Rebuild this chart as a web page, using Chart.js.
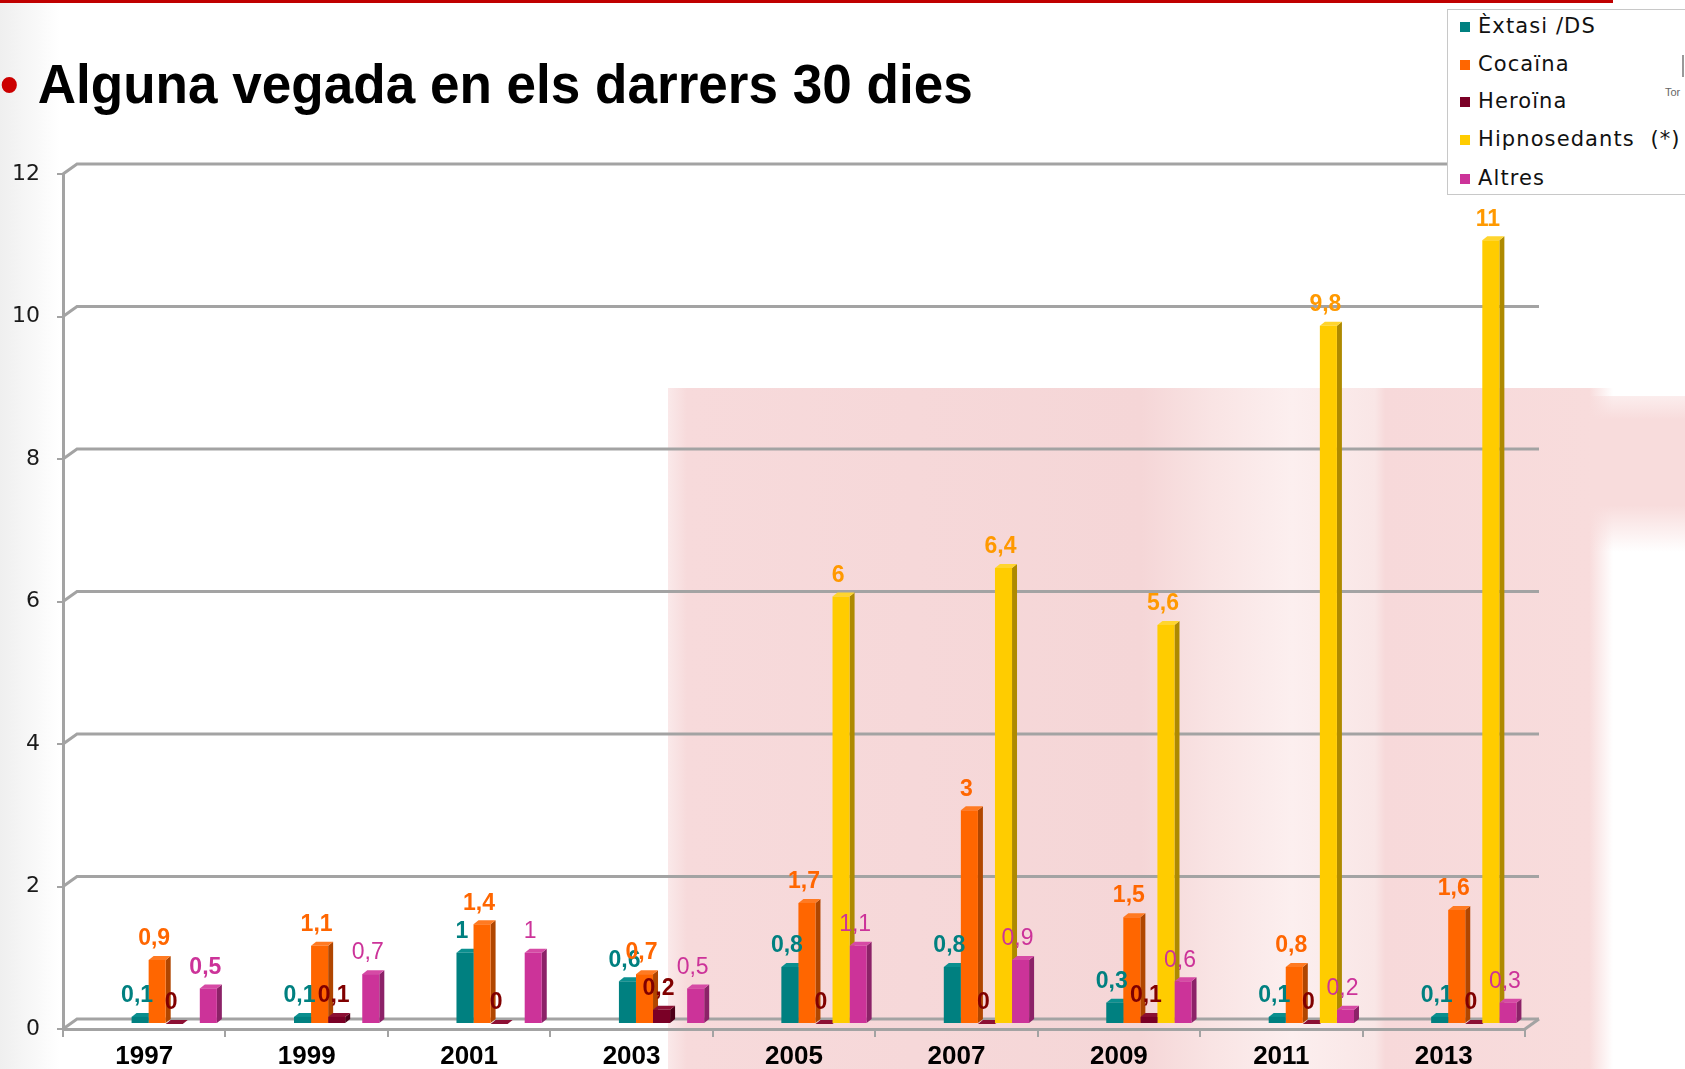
<!DOCTYPE html>
<html>
<head>
<meta charset="utf-8">
<script src="https://cdn.jsdelivr.net/npm/chart.js@4/dist/chart.umd.min.js"></script>
<style>
  html, body { margin: 0; padding: 0; }
  body { width: 1685px; height: 1069px; overflow: hidden; background: #fff; position: relative; font-family: "Liberation Sans", Arial, sans-serif; }
  #leftband { position: absolute; left: 0; top: 0; width: 60px; height: 1069px; background: linear-gradient(to right, #efefef, rgba(255,255,255,0)); }
  #wm { position: absolute; left: 668px; top: 388px; width: 945px; height: 681px;
        background: linear-gradient(to right, rgba(247,218,219,0.6) 0%, #f7dadb 2%, #f5d6d7 50%, #f9e4e4 57.7%, #fcefef 66%, #f9e6e6 74.8%, #f7d9da 75.9%, #f8dcdc 97.5%, rgba(255,255,255,0) 100%); }
  #wm2 { position: absolute; left: 1590px; top: 396px; width: 95px; height: 156px;
         background: linear-gradient(to bottom, rgba(248,220,220,0.5) 0%, #f8dcdc 15%, #f8dcdc 70%, rgba(255,255,255,0) 100%); }
  #redline { position: absolute; left: 0; top: 0; width: 1613px; height: 3px; background: #c00000; }
  #chart { position: absolute; left: 0; top: 0; }
  #title { position: absolute; left: 0; top: 57px; font: bold 55px "Liberation Sans", Arial, sans-serif; line-height: 54px; color: #000; white-space: nowrap; transform: scaleX(0.965); transform-origin: 0 0; }
  #title .bullet { color: #cc0000; display: inline-block; width: 39px; }
  #legend { position: absolute; left: 1447px; top: 9px; width: 260px; height: 184px; border: 1px solid #c8c8c8; background: #fff; }
  #legend .item { position: absolute; left: 12px; height: 24px; line-height: 24px; font: 21px "DejaVu Sans", Verdana, sans-serif; letter-spacing: 1.1px; color: #111; white-space: pre; }
  #legend .sw { display: inline-block; width: 10px; height: 10px; margin-right: 8px; vertical-align: 1px; }
  #tor { position: absolute; left: 1665px; top: 86px; font: 11px "Liberation Sans", Arial, sans-serif; color: #666; }
  #torbox { position: absolute; left: 1682px; top: 55px; width: 2px; height: 22px; background: #999; }
</style>
</head>
<body>
<div id="leftband"></div>
<div id="wm"></div>
<div id="wm2"></div>
<canvas id="chart" width="1685" height="1069"></canvas>
<div id="redline"></div>
<div id="title"><span class="bullet">•</span>Alguna vegada en els darrers 30 dies</div>
<div id="legend"></div>
<div id="tor">Tor</div>
<div id="torbox"></div>
<script>
const years = ['1997', '1999', '2001', '2003', '2005', '2007', '2009', '2011', '2013'];
const extasi = [0.1, 0.1, 1, 0.6, 0.8, 0.8, 0.3, 0.1, 0.1];
const cocaina = [0.9, 1.1, 1.4, 0.7, 1.7, 3, 1.5, 0.8, 1.6];
const heroina = [0, 0.1, 0, 0.2, 0, 0, 0.1, 0, 0];
const hipnosedants = [null, null, null, null, 6, 6.4, 5.6, 9.8, 11];
const altres = [0.5, 0.7, 1, 0.5, 1.1, 0.9, 0.6, 0.2, 0.3];
const seriesNames = ['Èxtasi /DS', 'Cocaïna', 'Heroïna', 'Hipnosedants  (*)', 'Altres'];
const yTicks = [0, 2, 4, 6, 8, 10, 12];

// colours: front face, top face, side face, value label
const styles = [
  { front: '#008080', top: '#0b8f8f', side: '#005a5a', label: '#008080' },
  { front: '#ff6600', top: '#ff7a22', side: '#b04600', label: '#ff6600' },
  { front: '#7a0026', top: '#8c1034', side: '#4d0018', label: '#800000' },
  { front: '#ffcc00', top: '#ffd52e', side: '#ae8a00', label: '#ff9900' },
  { front: '#cc3399', top: '#d64aa5', side: '#8c2268', label: '#cc3399' }
];

const allSeries = [extasi, cocaina, heroina, hipnosedants, altres];

// html legend
const legendBox = document.getElementById('legend');
const rowTops = [4, 42, 79, 117, 156];
seriesNames.forEach((name, i) => {
  const row = document.createElement('div');
  row.className = 'item';
  row.style.top = rowTops[i] + 'px';
  const sw = document.createElement('span');
  sw.className = 'sw';
  sw.style.background = styles[i].front;
  row.appendChild(sw);
  row.appendChild(document.createTextNode(name));
  legendBox.appendChild(row);
});

// back wall / floor depth and bar offset
const DX = 14, DY = 10;
const BAR_SHIFT_X = 30, BAR_SHIFT_Y = 5;
const FACE_D = 5, FACE_H = 4;

const depthPlugin = {
  id: 'depth',
  beforeDatasetsDraw(chart) {
    const ctx = chart.ctx;
    const { left, right, bottom } = chart.chartArea;
    const y = chart.scales.y;
    // back wall grid lines
    ctx.save();
    ctx.strokeStyle = '#a3a3a3';
    ctx.lineWidth = 3;
    yTicks.forEach(v => {
      const py = y.getPixelForValue(v);
      ctx.beginPath();
      ctx.moveTo(left, py);
      ctx.lineTo(left + DX, py - DY);
      ctx.lineTo(right + DX, py - DY);
      ctx.stroke();
    });
    ctx.beginPath();
    ctx.moveTo(right, bottom);
    ctx.lineTo(right + DX, bottom - DY);
    ctx.stroke();
    ctx.restore();

    // bars sit behind the front plane
    ctx.save();
    ctx.translate(BAR_SHIFT_X, -BAR_SHIFT_Y);
    chart.data.datasets.forEach((ds, i) => {
      const meta = chart.getDatasetMeta(i);
      meta.data.forEach((el, j) => {
        if (ds.data[j] === null) return;
        const p = el.getProps(['x', 'y', 'base', 'width'], true);
        if (!isFinite(p.y)) return;
        const l = p.x - p.width / 2, r = p.x + p.width / 2;
        ctx.fillStyle = styles[i].side;
        ctx.beginPath();
        ctx.moveTo(r, p.y);
        ctx.lineTo(r + FACE_D, p.y - FACE_H);
        ctx.lineTo(r + FACE_D, p.base - FACE_H);
        ctx.lineTo(r, p.base);
        ctx.closePath();
        ctx.fill();
        ctx.fillStyle = styles[i].top;
        ctx.beginPath();
        ctx.moveTo(l, p.y);
        ctx.lineTo(l + FACE_D, p.y - FACE_H);
        ctx.lineTo(r + FACE_D, p.y - FACE_H);
        ctx.lineTo(r, p.y);
        ctx.closePath();
        ctx.fill();
      });
    });
  },
  afterDatasetsDraw(chart) {
    const ctx = chart.ctx;
    ctx.textAlign = 'center';
    ctx.textBaseline = 'middle';
    chart.data.datasets.forEach((ds, i) => {
      const meta = chart.getDatasetMeta(i);
      meta.data.forEach((el, j) => {
        const v = ds.data[j];
        if (v === null) return;
        const p = el.getProps(['x', 'y'], true);
        const bold = !(i === 4 && j > 0);
        ctx.font = (bold ? 'bold ' : '') + '23px "Liberation Sans", Arial, sans-serif';
        ctx.fillStyle = styles[i].label;
        ctx.fillText(String(v).replace('.', ','), p.x - 3, p.y - 21);
      });
    });
    ctx.restore();
  }
};

new Chart(document.getElementById('chart'), {
  type: 'bar',
  data: {
    labels: years,
    datasets: allSeries.map((data, i) => ({
      label: seriesNames[i],
      data: data,
      backgroundColor: styles[i].front,
      borderWidth: 0,
      barPercentage: 1,
      categoryPercentage: 0.525,
      clip: false
    }))
  },
  options: {
    responsive: false,
    animation: false,
    layout: { padding: { left: 0, top: 174, right: 160, bottom: 0 } },
    plugins: {
      legend: { display: false },
      tooltip: { enabled: false }
    },
    scales: {
      x: {
        afterFit: s => { s.height = 40; },
        grid: { drawOnChartArea: false, drawTicks: true, tickLength: 8, color: '#a3a3a3', lineWidth: 2, offset: true },
        border: { display: true, color: '#a3a3a3', width: 3 },
        ticks: { color: '#000', font: { family: '"Liberation Sans", Arial, sans-serif', size: 26, weight: 'bold' }, padding: 4, maxRotation: 0 }
      },
      y: {
        min: 0,
        max: 12,
        afterFit: s => { s.width = 63; },
        afterBuildTicks: s => { s.ticks = yTicks.map(v => ({ value: v })); },
        grid: { drawOnChartArea: false, drawTicks: true, tickLength: 6, color: '#a3a3a3', lineWidth: 2 },
        border: { display: true, color: '#a3a3a3', width: 3 },
        ticks: { color: '#1a1a1a', font: { family: '"DejaVu Sans", Verdana, sans-serif', size: 22 }, padding: 17 }
      }
    }
  },
  plugins: [depthPlugin]
});
</script>
</body>
</html>
